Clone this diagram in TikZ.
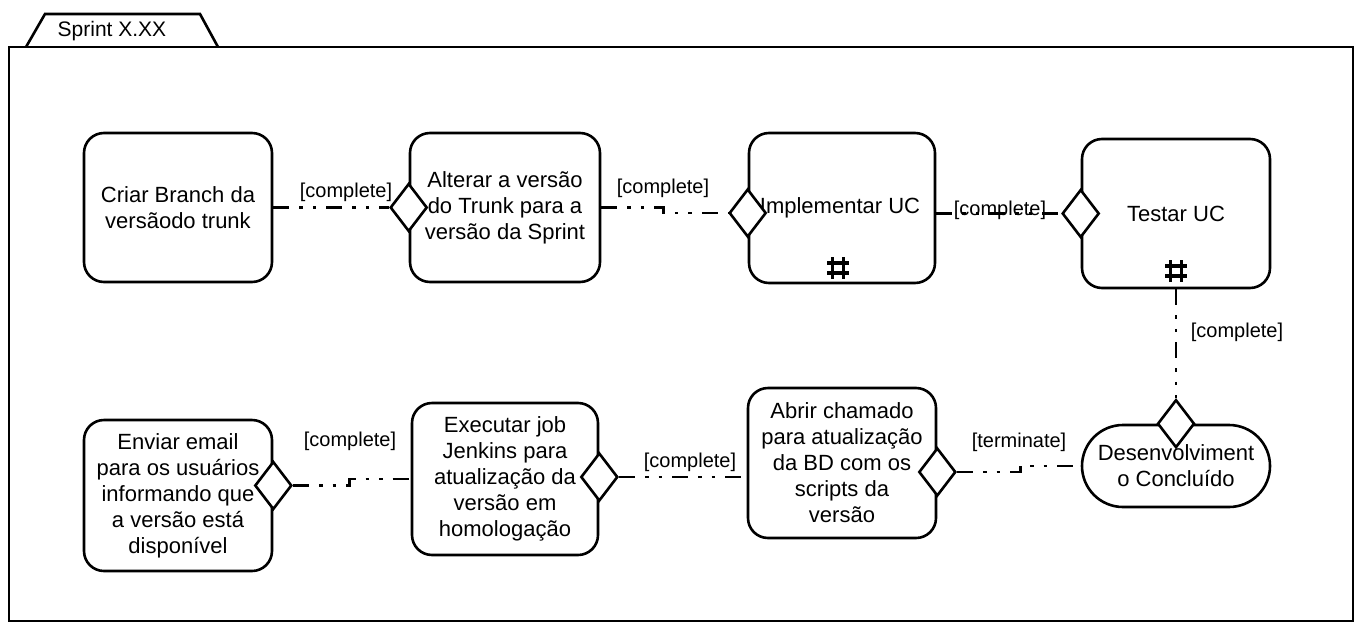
\documentclass[tikz,border=0pt]{standalone}
\usepackage{fontspec}
\newfontfamily\lib{Liberation Sans}
\usetikzlibrary{shapes.geometric,shapes.misc}
\newcommand\boxfont{\lib\fontsize{22}{26}\selectfont}
\newcommand\labfont{\lib\fontsize{20}{24}\selectfont}
\begin{document}
\begin{tikzpicture}[x=1pt,y=-1pt,
  lw/.style={line width=2.6pt},
  box/.style={draw,lw,rounded corners=20pt,align=center,font=\boxfont,inner sep=0pt},
  stad/.style={rounded rectangle,draw,lw,align=center,font=\boxfont,inner sep=0pt},
  dia/.style={diamond,draw,lw,fill=white,minimum width=37pt,minimum height=48pt,inner sep=0pt},
  conn/.style={line width=2.8pt,dash pattern=on 16pt off 10pt on 3.5pt off 10pt on 3.5pt off 10pt},
  lab/.style={font=\labfont,inner sep=0pt},
  rake/.style={line width=3.2pt}]
\useasboundingbox (0,0) rectangle (1362,632);
% frame and tab
\draw[lw] (9,47) rectangle (1353,621);
\draw[lw] (26,47) -- (45,14) -- (200,14) -- (218,47);
\node[lab,font=\lib\fontsize{21}{24}\selectfont] (tab) at (112,31) {Sprint X.XX};
% boxes row 1
\node[box,minimum width=188pt,minimum height=149pt] (b1) at (178,207.5) {Criar Branch da\\versãodo trunk};
\node[box,minimum width=190pt,minimum height=149pt] (b2) at (505,207.5) {Alterar a versão\\do Trunk para a\\versão da Sprint};
\node[box,minimum width=186pt,minimum height=150pt] (b3) at (842,208) {\hspace*{-4pt}Implementar UC};
\node[box,minimum width=188pt,minimum height=149pt] (b4) at (1176,213.5) {Testar UC};
% boxes row 2
\node[box,minimum width=188pt,minimum height=151pt] (e1) at (178,495.5) {Enviar email\\para os usuários\\informando que\\a versão está\\disponível};
\node[box,minimum width=186pt,minimum height=152pt] (e2) at (505,479) {Executar job\\Jenkins para\\atualização da\\versão em\\homologação};
\node[box,minimum width=188pt,minimum height=150pt] (e3) at (842,463) {Abrir chamado\\para atualização\\da BD com os\\scripts da\\versão};
\node[stad,minimum width=188pt,minimum height=82pt] (st) at (1176,466) {Desenvolviment\\o Concluído};
% rake symbols
\coordinate (r3) at (838,268);
\coordinate (r4) at (1176,271);
\foreach \r in {r3,r4}{
  \draw[rake] ([xshift=-5.5pt,yshift=11pt]\r) -- ([xshift=-5.5pt,yshift=-11pt]\r);
  \draw[rake] ([xshift=5.5pt,yshift=11pt]\r) -- ([xshift=5.5pt,yshift=-11pt]\r);
  \draw[rake] ([xshift=-11pt,yshift=5pt]\r) -- ([xshift=11pt,yshift=5pt]\r);
  \draw[rake] ([xshift=-11pt,yshift=-5pt]\r) -- ([xshift=11pt,yshift=-5pt]\r);
}
% diamonds
\node[dia] (d2) at (b2.west) {};
\node[dia] (d3) at ([yshift=-5pt]b3.west) {};
\node[dia] (d4) at (b4.west) {};
\node[dia] (dst) at (st.north) {};
\node[dia] (de1) at ([yshift=10pt]e1.east) {};
\node[dia] (de2) at ([yshift=2pt]e2.east) {};
\node[dia] (de3) at ([yshift=-9pt]e3.east) {};
% connectors
\draw[conn] (b1.east) -- (d2.west);
\draw[conn] (b2.east) -- ++(62,0) |- (d3.west);
\draw[conn] (b3.east |- d4.west) -- (d4.west);
\draw[conn] (b4.south) -- (dst.north);
\draw[conn] (de3.east) -- ++(63,0) |- (st.west);
\draw[conn] (de2.east) -- (de2.east -| e3.west);
\draw[conn] (de1.east) -- ++(56,0) |- (e2.west);
% labels
\node[lab] (l1) at (346,192) {[complete]};
\node[lab] (l2) at (663,188) {[complete]};
\node[lab] (l3) at (1000,210) {[complete]};
\node[lab] (l4) at (1237,332) {[complete]};
\node[lab] (l5) at (350,441) {[complete]};
\node[lab] (l6) at (690,462) {[complete]};
\node[lab] (l7) at (1019,442) {[terminate]};
\end{tikzpicture}
\end{document}
